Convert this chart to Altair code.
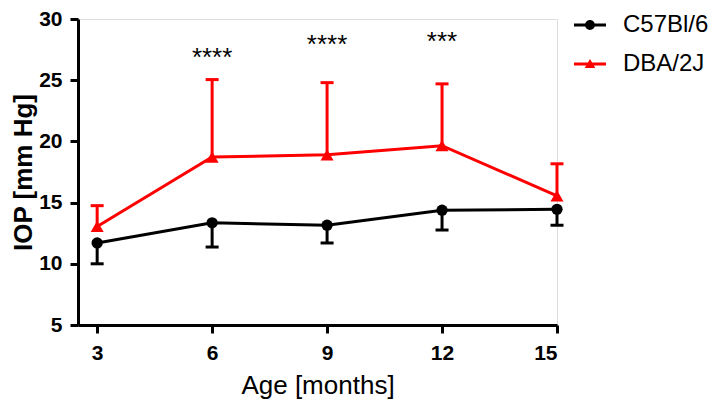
import altair as alt
import pandas as pd

# ---- data ----
ages = [3, 6, 9, 12, 15]
series_names = ["C57Bl/6", "DBA/2J"]
c57_mean = [11.7, 13.35, 13.15, 14.38, 14.45]
c57_err_end = [10.0, 11.37, 11.7, 12.76, 13.15]      # lower SD bar
dba_mean = [13.05, 18.72, 18.9, 19.65, 15.55]
dba_err_end = [14.75, 25.05, 24.8, 24.7, 18.17]      # upper SD bar
sig_ages = [6, 9, 12]
sig_labels = ["****", "****", "***"]
sig_y = [26.2, 27.2, 27.5]
x_ticks = [3, 6, 9, 12, 15]
y_ticks = [5, 10, 15, 20, 25, 30]

colors = ["#000000", "#ff0000"]
FONT = "Liberation Sans"

rows = []
for name, means, ends in [(series_names[0], c57_mean, c57_err_end),
                          (series_names[1], dba_mean, dba_err_end)]:
    for a, m, e in zip(ages, means, ends):
        rows.append({"age": a, "series": name, "mean": m, "end": e})
df = pd.DataFrame(rows)
sig_df = pd.DataFrame({"age": sig_ages, "label": sig_labels, "y": sig_y})

W, H = 479, 306

x_enc = alt.X("age:Q",
              scale=alt.Scale(domain=[2.5, 15], nice=False, zero=False),
              axis=alt.Axis(values=x_ticks, title="Age [months]", grid=False,
                            labelFontWeight="bold", labelFontSize=21, labelFont=FONT,
                            labelColor="black", labelPadding=9,
                            titleFont=FONT, titleFontSize=26, titleFontWeight="normal",
                            titleColor="black", titleBaseline="alphabetic", titleY=68,
                            domainColor="black", domainWidth=3,
                            tickColor="black", tickWidth=3, tickSize=8))
y_scale = alt.Scale(domain=[5, 30], nice=False, zero=False)
y_axis = alt.Axis(values=y_ticks, title="IOP [mm Hg]", grid=False,
                  labelFontWeight="bold", labelFontSize=21, labelFont=FONT,
                  labelColor="black", labelPadding=8,
                  titleFont=FONT, titleFontSize=26, titleFontWeight="bold",
                  titleColor="black", titleAngle=-90, titleBaseline="top",
                  titleAlign="center", titleX=-68, titleY=H / 2,
                  domainColor="black", domainWidth=3,
                  tickColor="black", tickWidth=3, tickSize=8)

col_scale = alt.Scale(domain=series_names, range=colors)
color_nolegend = alt.Color("series:N", scale=col_scale, legend=None)

base = alt.Chart(df)

rules = base.mark_rule(strokeWidth=3).encode(
    x=x_enc, y=alt.Y("mean:Q", scale=y_scale, axis=y_axis), y2="end:Q",
    color=color_nolegend)

caps = base.mark_tick(orient="horizontal", size=13, thickness=3, opacity=1).encode(
    x=x_enc, y=alt.Y("end:Q", scale=y_scale, axis=y_axis), color=color_nolegend)

lines = base.mark_line(strokeWidth=3).encode(
    x=x_enc, y=alt.Y("mean:Q", scale=y_scale, axis=y_axis), color=color_nolegend)

points = base.mark_point(filled=True, opacity=1, strokeWidth=0).encode(
    x=x_enc, y=alt.Y("mean:Q", scale=y_scale, axis=y_axis), color=color_nolegend,
    shape=alt.Shape("series:N", scale=alt.Scale(domain=series_names,
                                                range=["circle", "triangle-up"]),
                    legend=None),
    size=alt.Size("series:N", scale=alt.Scale(domain=series_names, range=[127, 170]),
                  legend=None))

# legend symbols: line with marker (custom paths in unit square)
path_circle = ("M-1,-0.1L1,-0.1L1,0.1L-1,0.1Z "
               "M0.31,0A0.31,0.31 0 1,1 -0.31,0A0.31,0.31 0 1,1 0.31,0Z")
path_tri = ("M-1,-0.1L1,-0.1L1,0.1L-1,0.1Z "
            "M0,-0.31L0.33,0.25L-0.33,0.25Z")

legend_def = alt.Legend(title=None, orient="none", legendX=496, legendY=-10,
                        labelFont=FONT, labelFontSize=24, labelColor="black",
                        symbolSize=1024, symbolOpacity=1, symbolStrokeWidth=0,
                        rowPadding=11, labelOffset=17, padding=0)

legend_layer = base.mark_point(filled=True, opacity=0, size=1024).encode(
    x=x_enc, y=alt.Y("mean:Q", scale=y_scale, axis=y_axis),
    color=alt.Color("series:N", scale=col_scale, legend=legend_def),
    shape=alt.Shape("series:N", scale=alt.Scale(domain=series_names,
                                                range=[path_circle, path_tri]),
                    legend=legend_def))

stars = alt.Chart(sig_df).mark_text(font=FONT, fontSize=26, baseline="alphabetic",
                                    align="center", color="black").encode(
    x=x_enc, y=alt.Y("y:Q", scale=y_scale, axis=y_axis), text="label:N")

chart = alt.layer(rules, caps, lines, points, legend_layer, stars).resolve_scale(
    color="independent", shape="independent", size="independent"
).properties(
    width=W, height=H,
    autosize=alt.AutoSizeParams(type="none"),
    padding={"left": 70, "top": 11, "right": 158, "bottom": 74},
).configure_view(stroke=None).configure(font=FONT)

chart.save("out.html", embed_options={"renderer": "svg", "actions": False})
